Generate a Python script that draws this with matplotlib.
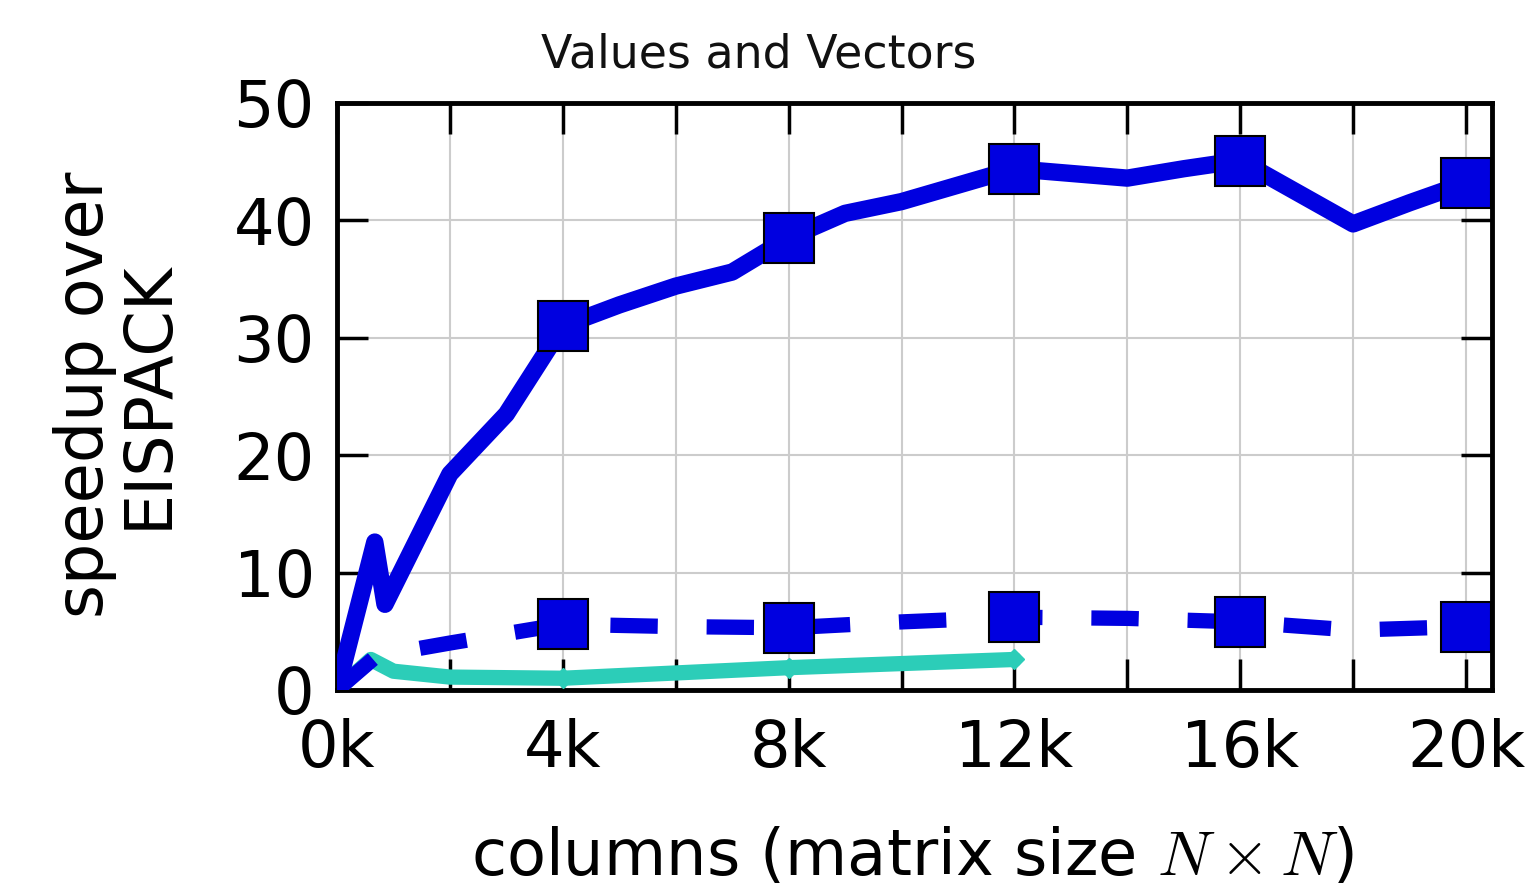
import matplotlib
matplotlib.use('Agg')
import matplotlib.pyplot as plt
from matplotlib.ticker import FixedLocator, FuncFormatter

plt.rcParams['font.family'] = 'DejaVu Sans'
plt.rcParams['mathtext.fontset'] = 'cm'

BLUE = '#0000e0'
TEAL = '#2ccdb8'

# speedup vs matrix size (thousands of columns)
solid_x = [0, 0.67, 0.85, 2, 3, 4, 5, 6, 7, 8, 9, 10, 11, 12, 13, 14, 15, 16, 17, 18, 19, 20]
solid_y = [0, 12.6, 7.3, 18.4, 23.5, 31.0, 32.8, 34.4, 35.6, 38.5, 40.6, 41.6, 43.0, 44.4,
           44.0, 43.6, 44.4, 45.1, 42.4, 39.7, 41.5, 43.2]

dashed_x = [0, 0.7, 2, 4, 6, 8, 10, 12, 14, 16, 18, 20]
dashed_y = [0, 2.9, 4.0, 5.6, 5.4, 5.3, 5.8, 6.2, 6.1, 5.8, 5.1, 5.4]

teal_x = [0, 0.6, 1, 2, 4, 8, 12]
teal_y = [0, 2.6, 1.6, 1.1, 1.0, 1.9, 2.6]

x_ticks = [0, 2, 4, 6, 8, 10, 12, 14, 16, 18, 20]
y_ticks = [0, 10, 20, 30, 40, 50]

fig = plt.figure(figsize=(15.38, 8.94), dpi=100)
ax = fig.add_axes([0.2191, 0.2282, 0.7510, 0.6566])


def marks_at(xs, step=4):
    return [i for i, v in enumerate(xs) if v > 0 and v % step == 0]


ax.plot(teal_x, teal_y, color=TEAL, lw=11, solid_capstyle='round',
        solid_joinstyle='round', marker='D', ms=10,
        markevery=marks_at(teal_x), zorder=3)

dl, = ax.plot(dashed_x, dashed_y, color=BLUE, lw=11, ls='--',
              marker='s', ms=36, mfc=BLUE, mec='black', mew=1.5,
              markevery=marks_at(dashed_x), zorder=4)
dl.set_dashes((3.1, 3.2))

ax.plot(solid_x, solid_y, color=BLUE, lw=12.5, solid_joinstyle='round',
        solid_capstyle='round', marker='s', ms=36, mfc=BLUE, mec='black',
        mew=1.5, markevery=marks_at(solid_x), zorder=5)

ax.set_xlim(0, 20.46)
ax.set_ylim(0, 50)
ax.xaxis.set_major_locator(FixedLocator(x_ticks))
ax.xaxis.set_major_formatter(FuncFormatter(
    lambda v, p: f'{int(round(v))}k' if int(round(v)) % 4 == 0 else ''))
ax.yaxis.set_major_locator(FixedLocator(y_ticks))

ax.grid(True, color='#cccccc', lw=1.5)
ax.set_axisbelow(True)
for s in ax.spines.values():
    s.set_linewidth(3.5)
ax.tick_params(direction='in', length=22, width=2.5, top=True, right=True,
               labelsize=46)
ax.tick_params(axis='x', pad=20)
ax.tick_params(axis='y', pad=16)

fig.text(0.493, 0.938, 'Values and Vectors', ha='center', va='center',
         fontsize=33, color='#111111')
fig.text(0.076, 0.558, 'speedup over\nEISPACK', ha='center', va='center',
         rotation=90, fontsize=47, multialignment='center', linespacing=1.0)
fig.text(0.593, 0.041, r'columns (matrix size $N\times N$)', ha='center',
         va='center', fontsize=46)

fig.savefig('out.png', dpi=100, facecolor='white')
